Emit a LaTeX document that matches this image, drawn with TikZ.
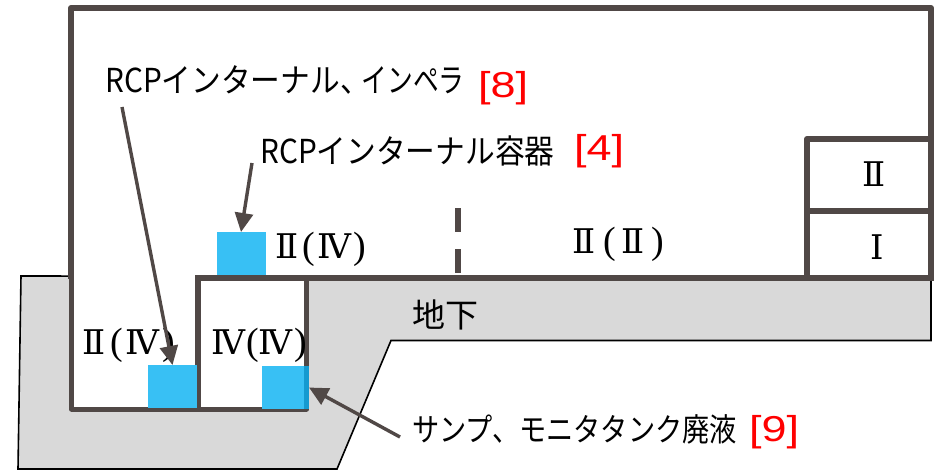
\documentclass[tikz,border=0pt]{standalone}
\usepackage{fontspec}
\usetikzlibrary{arrows.meta}
\newfontfamily\jpfont{Noto Sans CJK JP}[FakeStretch=0.9]
\newfontfamily\jpnarrow{Noto Sans CJK JP}[FakeStretch=0.78]
\newfontfamily\jpcond{Noto Sans CJK JP}[FakeStretch=0.85]
\newfontfamily\jpplain{Noto Sans CJK JP}
\newfontfamily\romfont{DejaVu Serif}
\newfontfamily\brfont{Liberation Sans}[FakeStretch=1.25]
\newfontfamily\parfont{Liberation Serif}
\definecolor{wallc}{HTML}{504846}
\definecolor{bluec}{HTML}{38C0F4}
\definecolor{bluedark}{HTML}{159AD0}
\definecolor{groundc}{HTML}{D9D9D9}
\tikzset{
  wall/.style={draw=wallc,line width=6pt,line join=round},
  thinwall/.style={draw=wallc,line width=5pt,line cap=round,line join=round},
  ground/.style={draw=black,line width=1.6pt,fill=groundc},
  bluebox/.style={fill=bluec,draw=none,minimum width=49pt,minimum height=43pt,inner sep=0pt,outer sep=0pt},
  wallbar/.style={fill=wallc,minimum width=6pt,minimum height=24pt,inner sep=0pt},
  label/.style={anchor=base west,inner sep=0pt,font=\jpfont\fontsize{33}{33}\selectfont,text=black},
  refnum/.style={anchor=base west,inner sep=0pt,font=\brfont\fontsize{36}{36}\selectfont,text=red},
  grade/.style={anchor=base west,inner sep=0pt,font=\romfont\fontsize{34}{34}\selectfont,text=black},
  pointer/.style={draw=wallc,line width=3.4pt,-{Triangle[length=19pt,width=18pt]}}
}
\newcommand{\rmpar}[1]{{\parfont\fontsize{38}{38}\selectfont #1}}
\begin{document}
\begin{tikzpicture}[x=1pt,y=-1pt]
\useasboundingbox (0,0) rectangle (940,472);
\fill[white] (0,0) rectangle (940,472);
% ground
\path[ground] (21,276) -- (18,469) -- (337,469) -- (391,340.5) -- (931,340.5) -- (931,277) -- cycle;
% pit interiors
\fill[white] (72,272) rectangle (306,408);
% walls
\draw[wall] (71,279) -- (71,8) -- (931,8) -- (931,278);
\draw[wall] (195,277.5) -- (934,277.5);
\draw[wall] (198,277.5) -- (198,409);
\draw[thinwall] (71.5,277) -- (71.5,409) -- (306.5,409) -- (306.5,278);
\draw[wall] (807,277) -- (807,139) -- (931,139);
\draw[wall] (807,210.5) -- (931,210.5);
\node[wallbar] (dashA) at (458,219.5) {};
\node[wallbar] (dashB) at (458,260.5) {};
% blue boxes
\node[bluebox] (boxA) at (241,253.5) {};
\node[bluebox] (boxB) at (172.5,386.5) {};
\node[bluebox,minimum width=47pt] (boxC) at (285.5,387.5) {};
\fill[bluedark] (304,366) rectangle (309,409);
% labels
\node[label] (labA) at (105,92) {RCPインターナル、\hspace{-8pt}{\jpnarrow インペラ}};
\node[refnum] (numA) at (478,97) {[8]};
\node[label] (labB) at (260,163) {RCPインターナル容器};
\node[refnum] (numB) at (574,160) {[4]};
\node[label,font=\jpcond\fontsize{32}{32}\selectfont] (labC) at (412,441) {サンプ、モニタタンク廃液};
\node[refnum] (numC) at (749,441) {[9]};
\node[label,font=\jpplain\fontsize{33}{33}\selectfont] (labD) at (412,327) {地下};
\node[grade] (gA) at (275,258) {Ⅱ\hspace{4pt}\rmpar{(}\hspace{3pt}Ⅳ\hspace{2pt}\rmpar{)}};
\node[grade] (gB) at (572,253) {Ⅱ\hspace{8pt}\rmpar{(}\hspace{6pt}Ⅱ\hspace{6pt}\rmpar{)}};
\node[grade] (gC) at (82,354) {Ⅱ\hspace{5pt}\rmpar{(}\hspace{3pt}Ⅳ\hspace{3pt}\rmpar{)}};
\node[grade] (gD) at (211,354) {Ⅳ\hspace{1pt}\rmpar{(}\hspace{0pt}Ⅳ\hspace{2pt}\rmpar{)}};
\node[grade,anchor=base] (gE) at (874,186) {Ⅱ};
\node[grade,anchor=base] (gF) at (877,259) {Ⅰ};
% connectors
\coordinate (fromA) at (122,107);
\coordinate (fromB) at (252,163);
\coordinate (fromC) at (400,437);
\draw[pointer] (fromA) -- (boxB.north);
\draw[pointer] (fromB) -- (boxA.north);
\draw[pointer] (fromC) -- (boxC.east);
\end{tikzpicture}
\end{document}
